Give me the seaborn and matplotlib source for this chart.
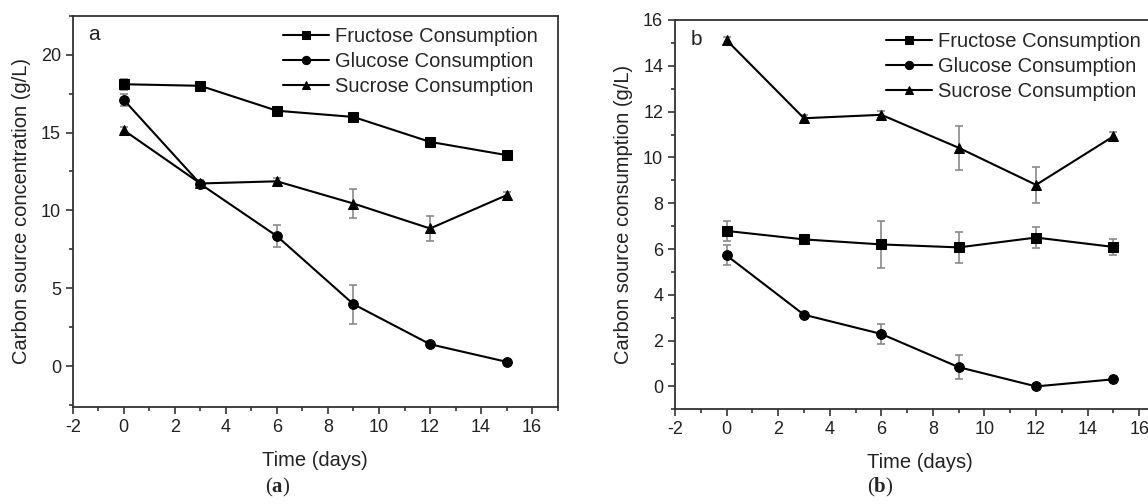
'''
Carbon source concentration / consumption over time
'''

import matplotlib
matplotlib.use('Agg')
import matplotlib.pyplot as plt
from matplotlib.ticker import MultipleLocator
import pandas as pd
import seaborn as sns

# data
days = [0, 3, 6, 9, 12, 15]
sugars = ['Fructose Consumption', 'Glucose Consumption', 'Sucrose Consumption']

a_fructose = [18.1, 18.0, 16.4, 16.0, 14.4, 13.55]
a_fructose_err = [0.35, 0.2, 0.2, 0.25, 0.25, 0.15]
a_glucose = [17.1, 11.7, 8.35, 3.98, 1.41, 0.28]
a_glucose_err = [0.4, 0.2, 0.7, 1.25, 0.2, 0.1]
a_sucrose = [15.15, 11.73, 11.87, 10.44, 8.84, 10.98]
a_sucrose_err = [0.2, 0.25, 0.2, 0.95, 0.78, 0.2]

b_fructose = [6.79, 6.42, 6.2, 6.07, 6.5, 6.09]
b_fructose_err = [0.42, 0.1, 1.02, 0.68, 0.47, 0.35]
b_glucose = [5.72, 3.13, 2.29, 0.84, 0.0, 0.31]
b_glucose_err = [0.44, 0.1, 0.43, 0.53, 0.05, 0.05]
b_sucrose = [15.12, 11.71, 11.86, 10.42, 8.8, 10.92]
b_sucrose_err = [0.15, 0.12, 0.15, 0.95, 0.79, 0.2]


def make_frame(values, errors):
    rows = []
    for sugar, vals, errs in zip(sugars, values, errors):
        for d, v, e in zip(days, vals, errs):
            rows.append({'day': d, 'value': v, 'err': e, 'sugar': sugar})
    return pd.DataFrame(rows)


df_a = make_frame([a_fructose, a_glucose, a_sucrose],
                  [a_fructose_err, a_glucose_err, a_sucrose_err])
df_b = make_frame([b_fructose, b_glucose, b_sucrose],
                  [b_fructose_err, b_glucose_err, b_sucrose_err])

sns.set_style('ticks')
plt.rcParams['font.family'] = ['Liberation Sans', 'DejaVu Sans']
plt.rcParams['axes.unicode_minus'] = False
plt.rcParams['mathtext.fontset'] = 'custom'
plt.rcParams['mathtext.bf'] = 'Liberation Serif:bold'
plt.rcParams['mathtext.rm'] = 'Liberation Serif'

fig = plt.figure(figsize=(11.48, 5.04), dpi=100)
W, H = 1148, 504
ax1 = fig.add_axes([72.7 / W, 1 - 406.7 / H, 485 / W, 391 / H])
ax2 = fig.add_axes([675 / W, 1 - 409.3 / H, 490 / W, 389.3 / H])

markers = {'Fructose Consumption': 's', 'Glucose Consumption': 'o',
           'Sucrose Consumption': '^'}
palette = {s: 'black' for s in sugars}
spine_col = '#333333'
text_col = '#222222'


def draw(ax, df, ylim, ymajor, yminor, ylabel, letter, legend_xy, right_spine):
    # error bars (gray, behind)
    for sugar in sugars:
        sub = df[df['sugar'] == sugar]
        ax.errorbar(sub['day'], sub['value'], yerr=sub['err'], fmt='none',
                    ecolor='#8a8a8a', elinewidth=1.2, capsize=3,
                    capthick=1.2, zorder=1)
    sns.lineplot(data=df, x='day', y='value', hue='sugar', style='sugar',
                 markers=markers, dashes=False, palette=palette,
                 markersize=7, markeredgecolor='black', linewidth=1.5,
                 ax=ax, zorder=3)
    handles, labels = ax.get_legend_handles_labels()
    ax.legend(handles, labels, loc='upper left', frameon=False,
              bbox_to_anchor=legend_xy, bbox_transform=fig.transFigure,
              borderpad=0, borderaxespad=0, fontsize=14.5, handlelength=2.3,
              handletextpad=0.3, labelspacing=0.3, markerscale=0.85)

    ax.set_xlim(-2, 17)
    ax.set_ylim(*ylim)
    ax.xaxis.set_major_locator(MultipleLocator(2))
    ax.xaxis.set_minor_locator(MultipleLocator(1))
    ax.yaxis.set_major_locator(MultipleLocator(ymajor))
    ax.yaxis.set_minor_locator(MultipleLocator(yminor))
    ax.tick_params(which='major', direction='out', length=5, width=1.2,
                   color=spine_col, labelsize=13, labelcolor=text_col)
    ax.tick_params(which='minor', direction='out', length=3, width=1.2,
                   color=spine_col)
    ax.set_xlabel('Time (days)', fontsize=14.5, color=text_col, labelpad=11)
    ax.set_ylabel(ylabel, fontsize=14.5, color=text_col, labelpad=7)
    for side, sp in ax.spines.items():
        sp.set_color(spine_col)
        sp.set_linewidth(1.3)
    ax.spines['right'].set_visible(right_spine)
    ax.text(0.032, 0.975, letter, transform=ax.transAxes, fontsize=15,
            color=text_col, va='top', ha='left')


draw(ax1, df_a, (-2.6, 22.5), 5, 2.5, 'Carbon source concentration (g/L)',
     'a', (283 / W, 1 - 27 / H), True)
draw(ax2, df_b, (-1, 16), 2, 1, 'Carbon source consumption (g/L)',
     'b', (886 / W, 1 - 32 / H), False)

fig.text(278 / W, 1 - 487 / H, r'($\mathbf{a}$)', fontsize=15,
         family='Liberation Serif', ha='center', va='center')
fig.text(880 / W, 1 - 487 / H, r'($\mathbf{b}$)', fontsize=15,
         family='Liberation Serif', ha='center', va='center')

fig.savefig('out.png', dpi=100)
